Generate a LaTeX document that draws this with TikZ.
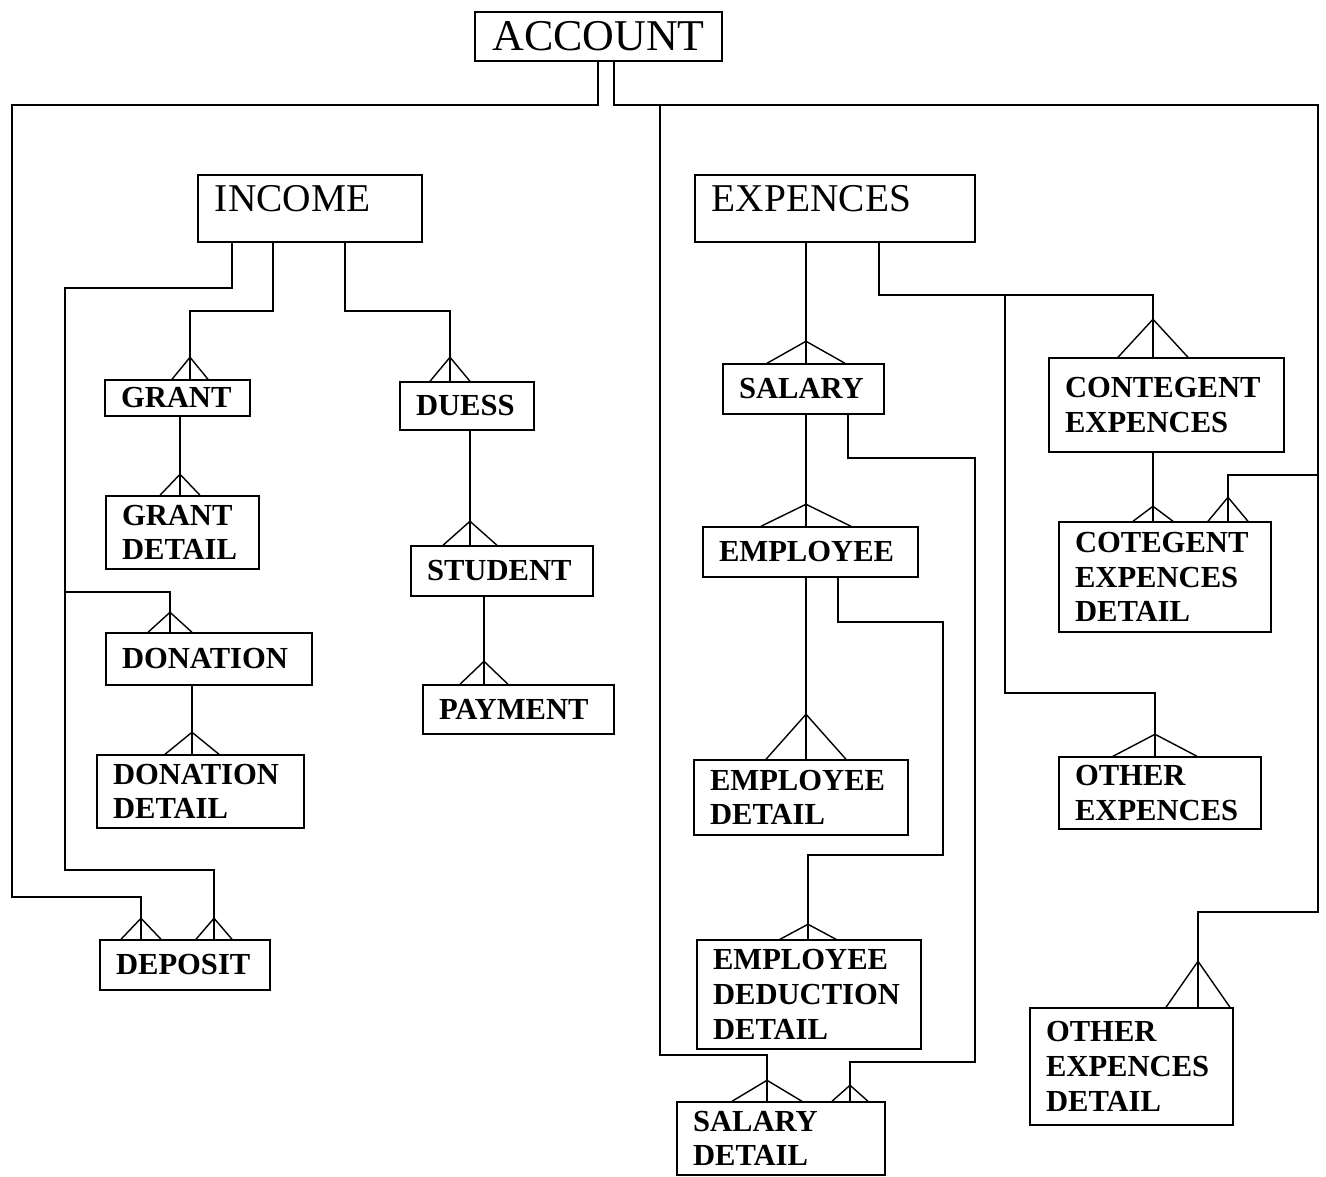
\documentclass[tikz,border=0pt]{standalone}
\usepackage{fontspec}
\setmainfont{Liberation Serif}

\begin{document}
\begin{tikzpicture}[
        x=0.01cm, y=-0.01cm,
        line width=0.4pt,
        entity/.style={draw, rectangle, inner xsep=0.16cm, inner ysep=0pt, align=left,
            font=\bfseries\fontsize{8.7}{9.9}\selectfont},
        toplevel/.style={draw, rectangle, inner xsep=0.17cm, inner ysep=0pt, align=left,
            text height=0.27cm, text depth=0.2cm, font=\fontsize{11.2}{13}\selectfont}
    ]
        \useasboundingbox (0,0) rectangle (1326,1177);

        % root and the two groups
        \node[draw, rectangle, inner sep=0pt, minimum width=2.47cm, minimum height=0.49cm,
              font=\fontsize{12.5}{14}\selectfont] (account) at (598.5,36.5) {ACCOUNT};
        \node[toplevel, minimum width=2.24cm, minimum height=0.67cm, text width=1.90cm]
              (income) at (310,208.5) {INCOME};
        \node[toplevel, minimum width=2.80cm, minimum height=0.67cm, text width=2.46cm]
              (expences) at (835,208.5) {EXPENCES};

        % entities: name/left/top/right/bottom/text
        \def\entities{
            grant/105/380/250/416/{GRANT},
            grantdet/106/496/259/569/{GRANT\\DETAIL},
            donation/106/633/312/685/{DONATION},
            donadet/97/755/304/828/{DONATION\\DETAIL},
            deposit/100/940/270/990/{DEPOSIT},
            duess/400/382/534/430/{DUESS},
            student/411/546/593/596/{STUDENT},
            payment/423/685/614/734/{PAYMENT},
            salary/723/364/884/414/{SALARY},
            employee/703/527/918/577/{EMPLOYEE},
            empdet/694/760/908/835/{EMPLOYEE\\DETAIL},
            empded/697/940/921/1049/{EMPLOYEE\\DEDUCTION\\DETAIL},
            salarydet/677/1102/885/1175/{SALARY\\DETAIL},
            conexp/1049/358/1284/452/{CONTEGENT\\EXPENCES},
            cotdet/1059/522/1271/632/{COTEGENT\\EXPENCES\\DETAIL},
            othexp/1059/757/1261/829/{OTHER\\EXPENCES},
            othdet/1030/1008/1233/1125/{OTHER\\EXPENCES\\DETAIL}
        }
        \foreach \nm/\xa/\ya/\xb/\yb/\txt in \entities {
            \pgfmathsetmacro\w{(\xb-\xa)*0.01}
            \pgfmathsetmacro\h{(\yb-\ya)*0.01}
            \pgfmathsetmacro\tw{(\xb-\xa)*0.01-0.32}
            \node[entity, minimum width=\w cm, minimum height=\h cm, text width=\tw cm]
                (\nm) at ({(\xa+\xb)/2},{(\ya+\yb)/2}) {\txt};
        }

        % account links
        \draw (account.south -| 598,0) |- (12,105) |- (141,897) -- (deposit.north -| 141,0);
        \draw (account.south -| 614,0) |- (660,105) |- (767,1055) -- (salarydet.north -| 767,0);
        \draw (account.south -| 614,0) |- (1318,105) |- (1198,912) -- (othdet.north -| 1198,0);
        \draw (account.south -| 614,0) |- (1318,105) |- (1228,475) -- (cotdet.north -| 1228,0);

        % income side
        \draw (income.south -| 273,0) |- (190,311) -- (grant.north -| 190,0);
        \draw (income.south -| 345,0) |- (450,311) -- (duess.north -| 450,0);
        \draw (income.south -| 232,0) |- (65,288) |- (170,592) -- (donation.north -| 170,0);
        \draw (income.south -| 232,0) |- (65,288) |- (214,870) -- (deposit.north -| 214,0);
        \draw (grant.south -| 180,0) -- (grantdet.north -| 180,0);
        \draw (donation.south -| 192,0) -- (donadet.north -| 192,0);
        \draw (duess.south -| 470,0) -- (student.north -| 470,0);
        \draw (student.south -| 484,0) -- (payment.north -| 484,0);

        % expences side
        \draw (expences.south -| 806,0) -- (salary.north -| 806,0);
        \draw (expences.south -| 879,0) |- (1153,295) -- (conexp.north -| 1153,0);
        \draw (expences.south -| 879,0) |- (1005,295) |- (1155,693) -- (othexp.north -| 1155,0);
        \draw (salary.south -| 806,0) -- (employee.north -| 806,0);
        \draw (salary.south -| 848,0) |- (975,458) |- (850,1062) -- (salarydet.north -| 850,0);
        \draw (employee.south -| 806,0) -- (empdet.north -| 806,0);
        \draw (employee.south -| 838,0) |- (943,622) |- (808,855) -- (empded.north -| 808,0);
        \draw (conexp.south -| 1153,0) -- (cotdet.north -| 1153,0);

        % crow's feet: entity/x/half spread/rise
        \foreach \nm/\x/\s/\r in {
            grant/190/18/22, duess/450/20/24, grantdet/180/20/21,
            donation/170/22/20, donadet/192/27/22,
            deposit/141/20/21, deposit/214/18/21,
            student/470/27/24, payment/484/24/23,
            salary/806/39/22, employee/806/45/22, empdet/806/40/45,
            empded/808/28/15, salarydet/767/35/21, salarydet/850/18/16,
            conexp/1153/35/38, cotdet/1153/20/15, cotdet/1228/20/24,
            othexp/1155/42/22, othdet/1198/32/46
        } {
            \draw (\nm.north -| \x,0) ++(-\s,0) -- ++(\s,-\r) -- ++(\s,\r);
        }
    \end{tikzpicture}
\end{document}
